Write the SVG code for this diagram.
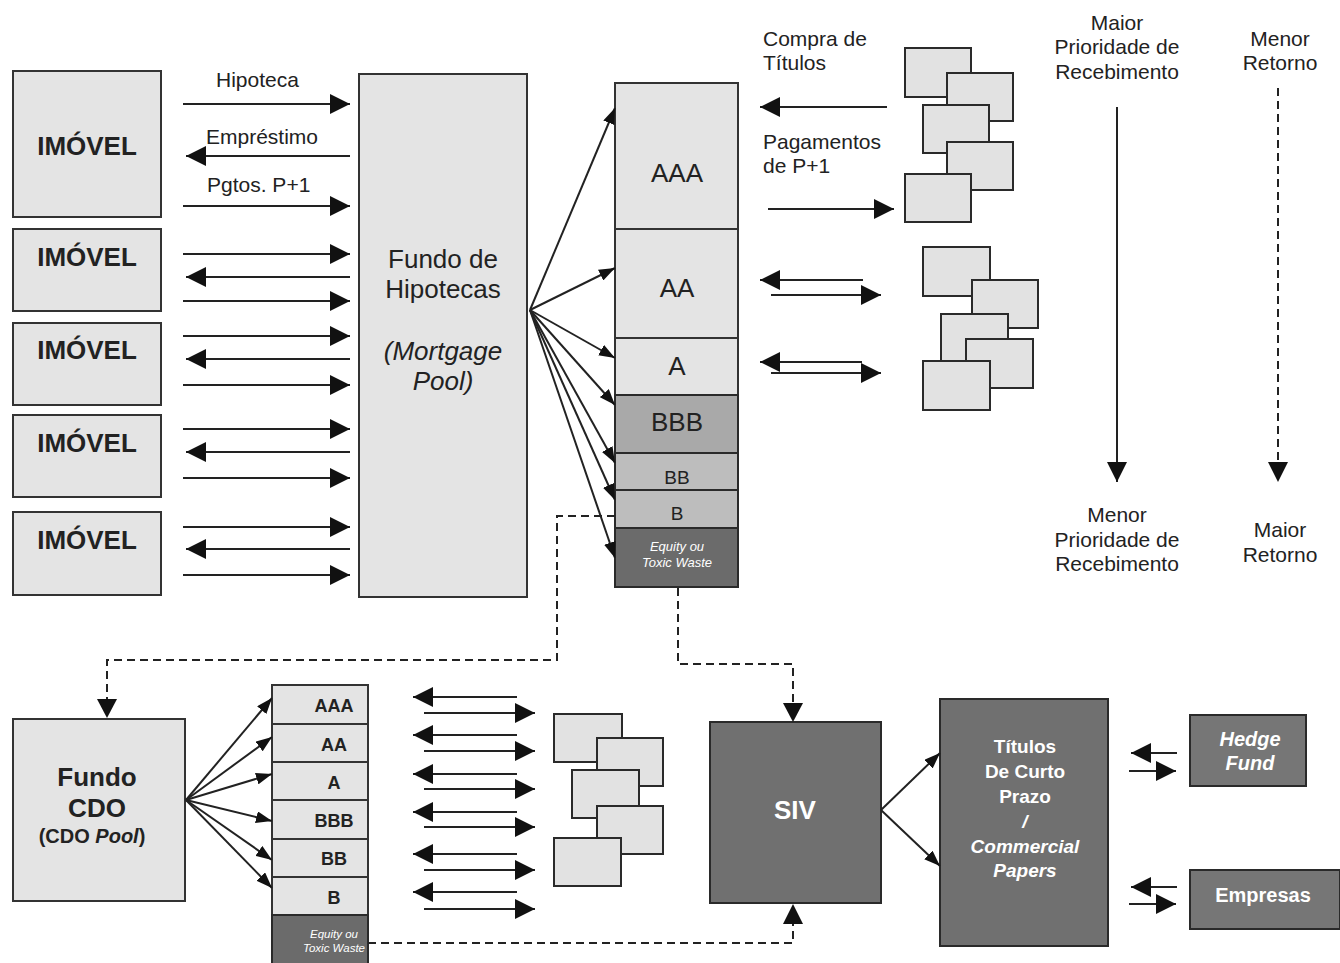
<svg xmlns="http://www.w3.org/2000/svg" width="1340" height="963" viewBox="0 0 1340 963">
<style>
text{font-family:"Liberation Sans",Arial,Helvetica,sans-serif;fill:#222}
.lbl{font-size:21px}
.mid{text-anchor:middle}
.imv{font-size:26px;font-weight:bold;text-anchor:middle}
.box{fill:#e4e4e4;stroke:#333;stroke-width:2}
.paper{fill:#e2e2e2;stroke:#2a2a2a;stroke-width:2}
.dark{fill:#707070;stroke:#2a2a2a;stroke-width:2}
.mdark{fill:#a9a9a9;stroke:#2a2a2a;stroke-width:2}
.mgray{fill:#bdbdbd;stroke:#2a2a2a;stroke-width:2}
.wt{fill:#fff;font-weight:bold;text-anchor:middle}
.eq{fill:#fff;font-style:italic;text-anchor:middle}
.ln{stroke:#222;stroke-width:2;fill:none}
.big{marker-end:url(#ah)}
.sm{marker-end:url(#as)}
.dash{stroke:#222;stroke-width:2;fill:none;stroke-dasharray:8 5}
</style>
<defs>
<marker id="ah" markerUnits="userSpaceOnUse" markerWidth="20" markerHeight="20" refX="20" refY="10" orient="auto"><path d="M0,0 L20,10 L0,20 z" fill="#111"/></marker>
<marker id="as" markerUnits="userSpaceOnUse" markerWidth="16" markerHeight="12" refX="16" refY="6" orient="auto"><path d="M0,0 L16,6 L0,12 z" fill="#111"/></marker>
</defs>
<rect width="1340" height="963" fill="#fff"/>

<g id="imovel1"><rect class="box" x="13" y="71" width="148" height="146"/><text class="imv" x="87" y="155">IMÓVEL</text></g>
<g id="imovel2"><rect class="box" x="13" y="229" width="148" height="82"/><text class="imv" x="87" y="266">IMÓVEL</text></g>
<g id="imovel3"><rect class="box" x="13" y="323" width="148" height="82"/><text class="imv" x="87" y="359">IMÓVEL</text></g>
<g id="imovel4"><rect class="box" x="13" y="415" width="148" height="82"/><text class="imv" x="87" y="452">IMÓVEL</text></g>
<g id="imovel5"><rect class="box" x="13" y="512" width="148" height="83"/><text class="imv" x="87" y="549">IMÓVEL</text></g>

<g id="pool"><rect class="box" x="359" y="74" width="168" height="523"/>
<text class="mid" x="443" y="268" font-size="26">Fundo de</text>
<text class="mid" x="443" y="298" font-size="26">Hipotecas</text>
<text class="mid" x="443" y="360" font-size="26" font-style="italic">(Mortgage</text>
<text class="mid" x="443" y="390" font-size="26" font-style="italic">Pool)</text></g>

<g id="tranches">
<rect class="box" x="615" y="83" width="123" height="146"/><text class="mid" x="677" y="182" font-size="26">AAA</text>
<rect class="box" x="615" y="229" width="123" height="109"/><text class="mid" x="677" y="297" font-size="26">AA</text>
<rect class="box" x="615" y="338" width="123" height="57"/><text class="mid" x="677" y="375" font-size="26">A</text>
<rect class="mdark" x="615" y="395" width="123" height="58"/><text class="mid" x="677" y="431" font-size="26">BBB</text>
<rect class="mgray" x="615" y="453" width="123" height="37"/><text class="mid" x="677" y="484" font-size="19">BB</text>
<rect class="mgray" x="615" y="490" width="123" height="38"/><text class="mid" x="677" y="520" font-size="19">B</text>
<rect class="dark" x="615" y="528" width="123" height="59" style="fill:#6b6b6b"/>
<text class="eq" x="677" y="551" font-size="13">Equity ou</text>
<text class="eq" x="677" y="567" font-size="13">Toxic Waste</text>
</g>

<g id="papers1">
<rect class="paper" x="905" y="48" width="66" height="49"/>
<rect class="paper" x="947" y="73" width="66" height="48"/>
<rect class="paper" x="923" y="105" width="66" height="48"/>
<rect class="paper" x="947" y="142" width="66" height="48"/>
<rect class="paper" x="905" y="174" width="66" height="48"/>
</g>
<g id="papers2">
<rect class="paper" x="923" y="247" width="67" height="49"/>
<rect class="paper" x="972" y="280" width="66" height="48"/>
<rect class="paper" x="941" y="314" width="67" height="49"/>
<rect class="paper" x="966" y="339" width="67" height="49"/>
<rect class="paper" x="923" y="361" width="67" height="49"/>
</g>

<g id="labels-top">
<text class="lbl" x="216" y="87">Hipoteca</text>
<text class="lbl" x="206" y="144">Empréstimo</text>
<text class="lbl" x="207" y="192">Pgtos. P+1</text>
<text class="lbl" x="763" y="46">Compra de</text>
<text class="lbl" x="763" y="70">Títulos</text>
<text class="lbl" x="763" y="149">Pagamentos</text>
<text class="lbl" x="763" y="173">de P+1</text>
<text class="lbl mid" x="1117" y="30">Maior</text>
<text class="lbl mid" x="1117" y="54">Prioridade de</text>
<text class="lbl mid" x="1117" y="79">Recebimento</text>
<text class="lbl mid" x="1280" y="46">Menor</text>
<text class="lbl mid" x="1280" y="70">Retorno</text>
<text class="lbl mid" x="1117" y="522">Menor</text>
<text class="lbl mid" x="1117" y="547">Prioridade de</text>
<text class="lbl mid" x="1117" y="571">Recebimento</text>
<text class="lbl mid" x="1280" y="537">Maior</text>
<text class="lbl mid" x="1280" y="562">Retorno</text>
</g>

<g id="cdo"><rect class="box" x="13" y="719" width="172" height="182"/>
<text class="mid" x="97" y="786" font-size="26" font-weight="bold">Fundo</text>
<text class="mid" x="97" y="817" font-size="26" font-weight="bold">CDO</text>
<text class="mid" x="92" y="843" font-size="20" font-weight="bold">(CDO <tspan font-style="italic">Pool</tspan>)</text></g>

<g id="cdo-tranches">
<rect class="box" x="272" y="685" width="96" height="39"/><text class="mid" x="334" y="712" font-size="18" font-weight="bold">AAA</text>
<rect class="box" x="272" y="724" width="96" height="38"/><text class="mid" x="334" y="751" font-size="18" font-weight="bold">AA</text>
<rect class="box" x="272" y="762" width="96" height="38"/><text class="mid" x="334" y="789" font-size="18" font-weight="bold">A</text>
<rect class="box" x="272" y="800" width="96" height="39"/><text class="mid" x="334" y="827" font-size="18" font-weight="bold">BBB</text>
<rect class="box" x="272" y="839" width="96" height="38"/><text class="mid" x="334" y="865" font-size="18" font-weight="bold">BB</text>
<rect class="box" x="272" y="877" width="96" height="38"/><text class="mid" x="334" y="904" font-size="18" font-weight="bold">B</text>
<rect class="dark" x="272" y="915" width="96" height="50" style="fill:#6b6b6b"/>
<text class="eq" x="334" y="938" font-size="11.5">Equity ou</text>
<text class="eq" x="334" y="952" font-size="11.5">Toxic Waste</text>
</g>

<g id="papers3">
<rect class="paper" x="554" y="714" width="68" height="48"/>
<rect class="paper" x="597" y="738" width="66" height="48"/>
<rect class="paper" x="572" y="770" width="67" height="48"/>
<rect class="paper" x="597" y="806" width="66" height="48"/>
<rect class="paper" x="554" y="838" width="67" height="48"/>
</g>

<g id="siv"><rect class="dark" x="710" y="722" width="171" height="181"/>
<text class="wt" x="795" y="819" font-size="26">SIV</text></g>

<g id="titulos"><rect class="dark" x="940" y="699" width="168" height="247"/>
<text class="wt" x="1025" y="753" font-size="19">Títulos</text>
<text class="wt" x="1025" y="778" font-size="19">De Curto</text>
<text class="wt" x="1025" y="803" font-size="19">Prazo</text>
<text class="wt" x="1025" y="828" font-size="19" font-style="italic">/</text>
<text class="wt" x="1025" y="853" font-size="19" font-style="italic">Commercial</text>
<text class="wt" x="1025" y="877" font-size="19" font-style="italic">Papers</text></g>

<g id="hedge"><rect class="dark" x="1190" y="715" width="116" height="71" style="fill:#767676"/>
<text class="wt" x="1250" y="746" font-size="20" font-style="italic">Hedge</text>
<text class="wt" x="1250" y="770" font-size="20" font-style="italic">Fund</text></g>

<g id="empresas"><rect class="dark" x="1190" y="870" width="150" height="59" style="fill:#767676"/>
<text class="wt" x="1263" y="902" font-size="20">Empresas</text></g>

<g id="connectors">
<line class="ln big" x1="183" y1="104" x2="350" y2="104"/>
<line class="ln big" x1="350" y1="156" x2="186" y2="156"/>
<line class="ln big" x1="183" y1="206" x2="350" y2="206"/>
<line class="ln big" x1="183" y1="254" x2="350" y2="254"/>
<line class="ln big" x1="350" y1="277" x2="186" y2="277"/>
<line class="ln big" x1="183" y1="301" x2="350" y2="301"/>
<line class="ln big" x1="183" y1="336" x2="350" y2="336"/>
<line class="ln big" x1="350" y1="359" x2="186" y2="359"/>
<line class="ln big" x1="183" y1="385" x2="350" y2="385"/>
<line class="ln big" x1="183" y1="429" x2="350" y2="429"/>
<line class="ln big" x1="350" y1="452" x2="186" y2="452"/>
<line class="ln big" x1="183" y1="478" x2="350" y2="478"/>
<line class="ln big" x1="183" y1="527" x2="350" y2="527"/>
<line class="ln big" x1="350" y1="549" x2="186" y2="549"/>
<line class="ln big" x1="183" y1="575" x2="350" y2="575"/>
<line class="ln sm" x1="530" y1="310" x2="615" y2="108"/>
<line class="ln sm" x1="530" y1="310" x2="615" y2="268"/>
<line class="ln sm" x1="530" y1="310" x2="615" y2="358"/>
<line class="ln sm" x1="530" y1="310" x2="615" y2="405"/>
<line class="ln sm" x1="530" y1="310" x2="615" y2="463"/>
<line class="ln sm" x1="530" y1="310" x2="615" y2="500"/>
<line class="ln sm" x1="530" y1="310" x2="615" y2="558"/>
<line class="ln big" x1="887" y1="107" x2="760" y2="107"/>
<line class="ln big" x1="768" y1="209" x2="894" y2="209"/>
<line class="ln big" x1="863" y1="280" x2="760" y2="280"/>
<line class="ln big" x1="771" y1="295" x2="881" y2="295"/>
<line class="ln big" x1="862" y1="362" x2="760" y2="362"/>
<line class="ln big" x1="771" y1="373" x2="881" y2="373"/>
<line class="ln big" x1="1117" y1="107" x2="1117" y2="482"/>
<line class="dash" x1="1278" y1="88" x2="1278" y2="465"/>
<path d="M1268,462 L1288,462 L1278,482 z" fill="#111"/>
<polyline class="dash" points="615,516 557,516 557,660 107,660 107,702"/>
<path d="M97,699 L117,699 L107,718 z" fill="#111"/>
<polyline class="dash" points="678,588 678,664 793,664 793,705"/>
<path d="M783,703 L803,703 L793,722 z" fill="#111"/>
<polyline class="dash" points="368,943 793,943 793,922"/>
<path d="M783,924 L803,924 L793,904 z" fill="#111"/>
<line class="ln sm" x1="186" y1="800" x2="272" y2="698"/>
<line class="ln sm" x1="186" y1="800" x2="272" y2="737"/>
<line class="ln sm" x1="186" y1="800" x2="272" y2="774"/>
<line class="ln sm" x1="186" y1="800" x2="272" y2="821"/>
<line class="ln sm" x1="186" y1="800" x2="272" y2="860"/>
<line class="ln sm" x1="186" y1="800" x2="272" y2="888"/>
<line class="ln big" x1="517" y1="697" x2="413" y2="697"/>
<line class="ln big" x1="424" y1="713" x2="535" y2="713"/>
<line class="ln big" x1="517" y1="735" x2="413" y2="735"/>
<line class="ln big" x1="424" y1="751" x2="535" y2="751"/>
<line class="ln big" x1="517" y1="774" x2="413" y2="774"/>
<line class="ln big" x1="424" y1="789" x2="535" y2="789"/>
<line class="ln big" x1="517" y1="812" x2="413" y2="812"/>
<line class="ln big" x1="424" y1="827" x2="535" y2="827"/>
<line class="ln big" x1="517" y1="854" x2="413" y2="854"/>
<line class="ln big" x1="424" y1="870" x2="535" y2="870"/>
<line class="ln big" x1="517" y1="892" x2="413" y2="892"/>
<line class="ln big" x1="424" y1="909" x2="535" y2="909"/>
<line class="ln sm" x1="881" y1="810" x2="940" y2="753"/>
<line class="ln sm" x1="881" y1="810" x2="940" y2="866"/>
<line class="ln big" x1="1177" y1="753" x2="1131" y2="753"/>
<line class="ln big" x1="1129" y1="771" x2="1176" y2="771"/>
<line class="ln big" x1="1177" y1="887" x2="1131" y2="887"/>
<line class="ln big" x1="1129" y1="904" x2="1176" y2="904"/>
</g>
</svg>
